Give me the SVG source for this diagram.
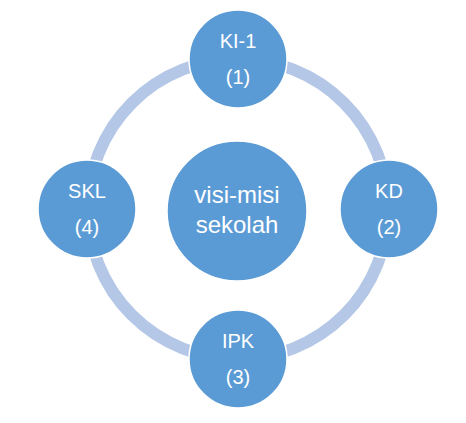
<svg xmlns="http://www.w3.org/2000/svg" width="466" height="423" viewBox="0 0 466 423">
<style>
.node{fill:#5B9BD5;stroke:#FFFFFF;stroke-width:1.5}
.t{font-family:"Liberation Sans",Arial,sans-serif;fill:#FFFFFF;text-anchor:middle;font-size:20px}
.tc{font-size:24px}
.ring{fill:none;stroke:#B4C7E7;stroke-width:12}
</style>
<rect width="466" height="423" fill="#FFFFFF"/>
<g id="connectors">
<circle class="ring" cx="238" cy="209" r="150"/>
</g>
<g id="center">
<circle class="node" cx="237" cy="211" r="70"/>
<text class="t tc" x="237" y="203">visi-misi</text>
<text class="t tc" x="237" y="233">sekolah</text>
</g>
<g id="ki1">
<circle class="node" cx="238" cy="59" r="49"/>
<text class="t" x="238" y="48">KI-1</text>
<text class="t" x="238" y="84">(1)</text>
</g>
<g id="kd">
<circle class="node" cx="389" cy="209" r="49"/>
<text class="t" x="389" y="198">KD</text>
<text class="t" x="389" y="234">(2)</text>
</g>
<g id="ipk">
<circle class="node" cx="238" cy="359" r="49"/>
<text class="t" x="238" y="348">IPK</text>
<text class="t" x="238" y="384">(3)</text>
</g>
<g id="skl">
<circle class="node" cx="87" cy="209" r="49"/>
<text class="t" x="87" y="198">SKL</text>
<text class="t" x="87" y="234">(4)</text>
</g>
</svg>
